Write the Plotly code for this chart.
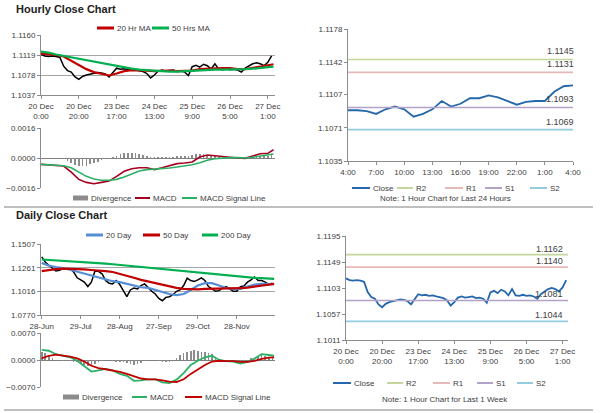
import plotly.graph_objects as go

FONT = "Liberation Sans, Arial, sans-serif"
TXT = "#404040"
GRID = "#a6a6a6"
AXIS = "#8c8c8c"

# ---------------- DATA ----------------
hourly_ticks = ["20 Dec<br>0:00", "20 Dec<br>20:00", "23 Dec<br>17:00", "24 Dec<br>13:00",
                "25 Dec<br>9:00", "26 Dec<br>5:00", "27 Dec<br>1:00"]
hourly_tick_pos = [0, 20, 40, 60, 80, 100, 120]

# hourly close, every 2 bars (bar 0 .. 122)
hourly_close = [1.1120, 1.1117, 1.1116, 1.1117, 1.1116, 1.1114, 1.1096, 1.1087, 1.1084, 1.1074,
                1.1069, 1.1075, 1.1078, 1.1080, 1.1081, 1.1083, 1.1082, 1.1080, 1.1074, 1.1084,
                1.1092, 1.1090, 1.1091, 1.1089, 1.1090, 1.1088, 1.1086, 1.1085, 1.1081, 1.1072,
                1.1078, 1.1086, 1.1088, 1.1086, 1.1087, 1.1088, 1.1085, 1.1086, 1.1084, 1.1077,
                1.1095, 1.1098, 1.1094, 1.1100, 1.1097, 1.1090, 1.1101, 1.1090, 1.1089, 1.1091,
                1.1089, 1.1090, 1.1088, 1.1084, 1.1092, 1.1096, 1.1101, 1.1103, 1.1101, 1.1097,
                1.1104, 1.1117]
hourly_div = [0, 0, 0, 0, 0, -0.00001, -0.00005, -0.00015, -0.00025, -0.00035,
              -0.00042, -0.00045, -0.00040, -0.00034, -0.00028, -0.00020, -0.00012, -0.00007, -0.00003, 0.00005,
              0.00012, 0.00020, 0.00025, 0.00027, 0.00028, 0.00027, 0.00024, 0.00018, 0.00012, 0.00005,
              0.00003, 0.00006, 0.00007, 0.00008, 0.00008, 0.00008, 0.00009, 0.00010, 0.00010, 0.00012,
              0.00016, 0.00020, 0.00022, 0.00021, 0.00018, 0.00013, 0.00009, 0.00006, 0.00004, 0.00003,
              0.00002, 0.00001, 0, -0.00002, 0.00001, 0.00004, 0.00006, 0.00008, 0.00010, 0.00010,
              0.00010, 0.00015]
# moving averages / MACD, every 4 bars plus the last bar (0,4,...,120,123)
hourly_ma20 = [1.1122, 1.1121, 1.1119, 1.1116, 1.1107, 1.1099, 1.1090, 1.1084, 1.1080, 1.1077,
               1.1081, 1.1086, 1.1088, 1.1088, 1.1087, 1.1086, 1.1087, 1.1087, 1.1086, 1.1086,
               1.1087, 1.1090, 1.1091, 1.1092, 1.1092, 1.1092, 1.1090, 1.1090, 1.1092, 1.1095,
               1.1098, 1.1100]
hourly_ma50 = [1.1126, 1.1124, 1.1120, 1.1117, 1.1114, 1.1112, 1.1109, 1.1106, 1.1103, 1.1100,
               1.1096, 1.1094, 1.1091, 1.1089, 1.1088, 1.1086, 1.1086, 1.1085, 1.1085, 1.1086,
               1.1086, 1.1087, 1.1088, 1.1089, 1.1089, 1.1089, 1.1089, 1.1090, 1.1091, 1.1092,
               1.1094, 1.1095]
hourly_macd = [-0.00034, -0.00037, -0.00039, -0.00043, -0.00075, -0.00114, -0.00130, -0.00137, -0.00130, -0.00123,
               -0.00098, -0.00071, -0.00057, -0.00052, -0.00052, -0.00062, -0.00052, -0.00039, -0.00030, -0.00027,
               -0.00021, 0.00005, 0.00016, 0.00012, 0.00007, 0.00004, 0.0, -0.00002, 0.00011, 0.00023,
               0.00025, 0.00044]
hourly_signal = [-0.00034, -0.00037, -0.00039, -0.00041, -0.00052, -0.00075, -0.00098, -0.00112, -0.00119, -0.00119,
                 -0.00114, -0.00101, -0.00084, -0.00069, -0.00062, -0.00060, -0.00059, -0.00053, -0.00048, -0.00043,
                 -0.00036, -0.00025, -0.00012, -0.00004, 0.0, 0.00002, 0.00002, 0.0, 0.00004, 0.00009,
                 0.00016, 0.00021]

daily_ticks = ["28-Jun", "29-Jul", "28-Aug", "27-Sep", "29-Oct", "28-Nov"]
daily_tick_pos = [0, 22, 44, 66, 88, 110]
# daily close, every 2 trading days (0 .. 130)
daily_close = [1.1374, 1.1321, 1.1286, 1.1251, 1.1226, 1.1233, 1.1251, 1.1251, 1.1251, 1.1216,
               1.1156, 1.1135, 1.1111, 1.1065, 1.1111, 1.1226, 1.1223, 1.1198, 1.1128, 1.1100,
               1.1093, 1.1128, 1.1086, 1.1023, 1.0960, 1.1030, 1.1051, 1.1041, 1.1076, 1.1093,
               1.1051, 1.1016, 1.0988, 1.0942, 1.0918, 1.0953, 1.0960, 1.0981, 1.1016, 1.1030,
               1.1076, 1.1153, 1.1128, 1.1118, 1.1135, 1.1156, 1.1128, 1.1065, 1.1041, 1.1016,
               1.1023, 1.1051, 1.1065, 1.1041, 1.1016, 1.1016, 1.1065, 1.1072, 1.1111, 1.1135,
               1.1165, 1.1128, 1.1128, 1.1111, 1.1086, 1.1100]
daily_div = [0.0022, 0.0018, 0.0013, 0.0006, 0.0001, -0.0001, -0.0002, -0.0002, -0.0002, -0.0004,
             -0.0006, -0.0010, -0.0013, -0.0015, -0.0015, -0.0010, -0.0006, -0.0002, 0.0001, -0.0001,
             -0.0002, -0.0004, -0.0005, -0.0006, -0.0008, -0.0011, -0.0013, -0.0011, -0.0007, -0.0002,
             0.0000, 0.0001, 0.0000, -0.0003, -0.0005, -0.0005, -0.0004, -0.0001, 0.0006, 0.0012,
             0.0017, 0.0021, 0.0024, 0.0025, 0.0024, 0.0022, 0.0020, 0.0018, 0.0015, 0.0008,
             0.0002, 0.0000, 0.0000, -0.0001, -0.0001, -0.0003, -0.0004, -0.0002, 0.0000, 0.0004,
             0.0006, 0.0009, 0.0012, 0.0010, 0.0007, 0.0004]
# every 4 trading days plus the last (0,4,...,128,131)
daily_ma20 = [1.1311, 1.1283, 1.1268, 1.1258, 1.1240, 1.1219, 1.1198, 1.1177, 1.1163, 1.1142,
              1.1121, 1.1111, 1.1093, 1.1072, 1.1058, 1.1051, 1.1030, 1.1006, 1.0988, 1.0977,
              1.0988, 1.1030, 1.1076, 1.1100, 1.1100, 1.1076, 1.1051, 1.1041, 1.1041, 1.1065,
              1.1086, 1.1093, 1.1093, 1.1090]
daily_ma50 = [1.1226, 1.1240, 1.1247, 1.1251, 1.1251, 1.1247, 1.1244, 1.1237, 1.1233, 1.1226,
              1.1216, 1.1198, 1.1177, 1.1156, 1.1135, 1.1118, 1.1100, 1.1083, 1.1065, 1.1051,
              1.1041, 1.1037, 1.1037, 1.1041, 1.1041, 1.1041, 1.1044, 1.1044, 1.1048, 1.1055,
              1.1065, 1.1076, 1.1086, 1.1093]
daily_ma200 = [1.1346, 1.1342, 1.1339, 1.1335, 1.1328, 1.1325, 1.1318, 1.1314, 1.1307, 1.1304,
               1.1297, 1.1290, 1.1283, 1.1276, 1.1268, 1.1261, 1.1251, 1.1244, 1.1237, 1.1230,
               1.1223, 1.1216, 1.1209, 1.1202, 1.1195, 1.1188, 1.1181, 1.1174, 1.1167, 1.1163,
               1.1156, 1.1153, 1.1149, 1.1144]
daily_macd = [0.0026, 0.0024, 0.0015, 0.0010, 0.0007, -0.0002, -0.0017, -0.0030, -0.0027, -0.0023,
              -0.0027, -0.0036, -0.0041, -0.0054, -0.0053, -0.0050, -0.0050, -0.0058, -0.0060, -0.0051,
              -0.0034, -0.0013, -0.0002, 0.0007, 0.0011, 0.0000, -0.0003, -0.0004, -0.0009, -0.0005,
              0.0004, 0.0015, 0.0013, 0.0011]
daily_signal = [0.0004, 0.0011, 0.0014, 0.0012, 0.0009, 0.0004, -0.0004, -0.0015, -0.0021, -0.0024,
                -0.0027, -0.0031, -0.0036, -0.0043, -0.0048, -0.0050, -0.0050, -0.0053, -0.0056, -0.0057,
                -0.0050, -0.0036, -0.0024, -0.0013, -0.0004, -0.0002, -0.0003, -0.0003, -0.0005, -0.0005,
                -0.0002, 0.0003, 0.0006, 0.0007]

# last 24 hours close (4:00 .. 4:00)
day_ticks = ["4:00", "7:00", "10:00", "13:00", "16:00", "19:00", "22:00", "1:00", "4:00"]
day_close = [1.1090, 1.1090, 1.1089, 1.1086, 1.1091, 1.1094, 1.1091, 1.1083, 1.1086, 1.1091,
             1.1100, 1.1094, 1.1097, 1.1103, 1.1103, 1.1106, 1.1104, 1.1100, 1.1096, 1.1099,
             1.1100, 1.1100, 1.1110, 1.1116, 1.1117]

level_names = ["R2", "R1", "S1", "S2"]
level_colors = ["#c3d69b", "#e6b9b8", "#b3a2c7", "#93cddd"]
levels_24h = [1.1145, 1.1131, 1.1093, 1.1069]
levels_week = [1.1162, 1.1140, 1.1081, 1.1044]

# ---------------- FIGURE ----------------
W, H = 600, 413
def px(x): return x / W
def py(y): return 1 - y / H

h_idx = list(range(0, 124, 2))
h_ma_idx = list(range(0, 124, 4)) + [123]
d_idx = list(range(0, 132, 2))
d_ma_idx = list(range(0, 132, 4)) + [131]
day_idx = list(range(len(day_close)))

RED = "#c00000"
GREEN = "#00b050"
BLUE = "#558ed5"
CLOSE = "#2468ab"
DIVC = "#8c8c8c"

fig = go.Figure()
def line(x, y, color, width, xa, ya):
    fig.add_trace(go.Scatter(x=x, y=y, mode="lines", line=dict(color=color, width=width),
                             xaxis=xa, yaxis=ya, showlegend=False, hoverinfo="skip"))

# hourly price
line(h_idx, hourly_close, "#000000", 1.5, "x", "y")
line(h_ma_idx, hourly_ma20, RED, 2.2, "x", "y")
line(h_ma_idx, hourly_ma50, GREEN, 2.2, "x", "y")
# hourly MACD
fig.add_trace(go.Bar(x=h_idx, y=hourly_div, marker=dict(color=DIVC, line=dict(width=0)), width=0.9,
                     xaxis="x2", yaxis="y2", showlegend=False, hoverinfo="skip"))
line(h_ma_idx, hourly_macd, "#a50021", 1.6, "x2", "y2")
line(h_ma_idx, hourly_signal, "#2ab165", 1.6, "x2", "y2")
# 24h chart
line(day_idx, day_close, CLOSE, 1.8, "x3", "y3")
for lv, c in zip(levels_24h, level_colors):
    line([day_idx[0], day_idx[-1]], [lv, lv], c, 1.6, "x3", "y3")
# daily price
line(d_idx, daily_close, "#000000", 1.5, "x4", "y4")
line(d_ma_idx, daily_ma20, BLUE, 2.2, "x4", "y4")
line(d_ma_idx, daily_ma50, RED, 2.2, "x4", "y4")
line(d_ma_idx, daily_ma200, GREEN, 2.2, "x4", "y4")
# daily MACD
fig.add_trace(go.Bar(x=d_idx, y=daily_div, marker=dict(color=DIVC, line=dict(width=0)), width=0.9,
                     xaxis="x5", yaxis="y5", showlegend=False, hoverinfo="skip"))
line(d_ma_idx, daily_macd, "#2ab165", 1.8, "x5", "y5")
line(d_ma_idx, daily_signal, "#c00000", 1.8, "x5", "y5")
# week chart
line(h_idx, hourly_close, CLOSE, 1.8, "x6", "y6")
for lv, c in zip(levels_week, level_colors):
    line([0, 123], [lv, lv], c, 1.6, "x6", "y6")

tickfont = dict(family=FONT, size=8, color=TXT)
def xax(dom, anchor, rng, tv=None, tt=None, show=True, line_on=True):
    d = dict(domain=dom, anchor=anchor, range=rng, showgrid=False, zeroline=False,
             showline=line_on, linecolor=AXIS, linewidth=1, tickfont=tickfont,
             fixedrange=True, automargin=False)
    if show:
        d.update(tickvals=tv, ticktext=tt, ticks="outside", ticklen=3, tickcolor=AXIS)
    else:
        d.update(showticklabels=False, ticks="")
    return d

def yax(dom, anchor, rng, tv, grid=True, zl=False):
    return dict(domain=dom, anchor=anchor, range=rng, tickvals=tv, tickformat=".4f",
                showgrid=grid, gridcolor=GRID, gridwidth=1, zeroline=zl, zerolinecolor="#7f7f7f",
                zerolinewidth=1, showline=True, linecolor=AXIS, linewidth=1, ticks="outside",
                ticklen=3, tickcolor=AXIS, tickfont=tickfont, fixedrange=True, automargin=False)

LX = [px(41), px(275)]
fig.update_layout(
    width=W, height=H, margin=dict(l=0, r=0, t=0, b=0, autoexpand=False),
    paper_bgcolor="white", plot_bgcolor="white", showlegend=False, bargap=0,
    hovermode=False,
    font=dict(family=FONT, size=8, color=TXT),
    xaxis=xax(LX, "y", [0, 123.8], hourly_tick_pos, hourly_ticks),
    yaxis=yax([py(95), py(35)], "x", [1.1037, 1.1160], [1.1037, 1.1078, 1.1119, 1.1160]),
    xaxis2=xax(LX, "y2", [0, 123.8], show=False, line_on=False),
    yaxis2=yax([py(188), py(128)], "x2", [-0.0016, 0.0016], [-0.0016, 0.0, 0.0016], zl=True),
    xaxis3=xax([px(348), px(573)], "y3", [0, 24], list(range(0, 25, 3)), day_ticks),
    yaxis3=yax([py(161), py(29)], "x3", [1.1035, 1.1178], [1.1035, 1.1071, 1.1107, 1.1142, 1.1178], grid=False),
    xaxis4=xax(LX, "y4", [-0.4, 131.5], daily_tick_pos, daily_ticks),
    yaxis4=yax([py(315), py(244)], "x4", [1.0770, 1.1507], [1.0770, 1.1016, 1.1261, 1.1507]),
    xaxis5=xax(LX, "y5", [-0.4, 131.5], show=False, line_on=False),
    yaxis5=yax([py(387), py(333)], "x5", [-0.0070, 0.0070], [-0.0070, 0.0, 0.0070], zl=True),
    xaxis6=xax([px(346), px(568)], "y6", [0, 123], hourly_tick_pos, hourly_ticks),
    yaxis6=yax([py(340), py(236)], "x6", [1.1011, 1.1195], [1.1011, 1.1057, 1.1103, 1.1149, 1.1195], grid=False),
)

shapes = []
annotations = []
def text(xp, yp, s, size=8, anchor="left", bold=False, color=TXT):
    annotations.append(dict(x=px(xp), y=py(yp), xref="paper", yref="paper", text=(f"<b>{s}</b>" if bold else s),
                            showarrow=False, xanchor=anchor, yanchor="middle",
                            font=dict(family=FONT, size=size, color=color)))

def leg_line(x0, x1, yp, color, label, w=3):
    shapes.append(dict(type="line", xref="paper", yref="paper", x0=px(x0), x1=px(x1), y0=py(yp), y1=py(yp),
                       line=dict(color=color, width=w)))
    text(x1 + 1, yp, label)

def leg_box(x0, x1, yp, color, label):
    shapes.append(dict(type="rect", xref="paper", yref="paper", x0=px(x0), x1=px(x1), y0=py(yp + 2.5), y1=py(yp - 2.5),
                       fillcolor=color, line=dict(width=0)))
    text(x1 + 1, yp, label)

# titles
text(14, 9, "Hourly Close Chart", size=11, bold=True, color="#222222")
text(14, 215, "Daily Close Chart", size=11, bold=True, color="#222222")

# legends
leg_line(97, 114, 28, RED, "20 Hr MA")
leg_line(152, 169, 28, GREEN, "50 Hrs MA")
leg_box(73, 88, 198, DIVC, "Divergence")
leg_line(135, 150, 198, "#a50021", "MACD", w=2)
leg_line(182, 197, 198, "#2ab165", "MACD Signal Line", w=2)

leg_line(352, 370, 188, CLOSE, "Close", w=2)
leg_line(397, 413, 188, level_colors[0], "R2", w=2)
leg_line(445, 463, 188, level_colors[1], "R1", w=2)
leg_line(485, 502, 188, level_colors[2], "S1", w=2)
leg_line(530, 547, 188, level_colors[3], "S2", w=2)
text(445, 199, "Note: 1 Hour Chart for Last 24 Hours", anchor="center")

leg_line(86, 103, 235, BLUE, "20 Day")
leg_line(143, 160, 235, RED, "50 Day")
leg_line(202, 218, 235, GREEN, "200 Day")
leg_box(63, 79, 397, DIVC, "Divergence")
leg_line(132, 147, 397, "#2ab165", "MACD", w=2)
leg_line(185, 202, 397, "#c00000", "MACD Signal Line", w=2)

leg_line(333, 351, 383, CLOSE, "Close", w=2)
leg_line(387, 403, 383, level_colors[0], "R2", w=2)
leg_line(433, 450, 383, level_colors[1], "R1", w=2)
leg_line(477, 493, 383, level_colors[2], "S1", w=2)
leg_line(517, 533, 383, level_colors[3], "S2", w=2)
text(445, 399, "Note: 1 Hour Chart for Last 1 Week", anchor="center")

# level value labels
for lv in levels_24h:
    annotations.append(dict(x=24, y=lv, xref="x3", yref="y3", text=f"{lv:.4f}", showarrow=False,
                            xanchor="right", yanchor="middle", xshift=3, yshift=8,
                            font=dict(family=FONT, size=9, color=TXT)))
for lv in levels_week:
    annotations.append(dict(x=123, y=lv, xref="x6", yref="y6", text=f"{lv:.4f}", showarrow=False,
                            xanchor="right", yanchor="middle", xshift=-3, yshift=6,
                            font=dict(family=FONT, size=9, color=TXT)))

# separators
for yp in (207, 410):
    shapes.append(dict(type="line", xref="paper", yref="paper", x0=px(4), x1=px(593), y0=py(yp), y1=py(yp),
                       line=dict(color="#bfbfbf", width=2)))

fig.update_layout(shapes=shapes, annotations=annotations)
fig.write_html("out.html", config={"displayModeBar": False, "staticPlot": True},
               post_script="document.body.style.margin='0';document.body.style.overflow='hidden';")
